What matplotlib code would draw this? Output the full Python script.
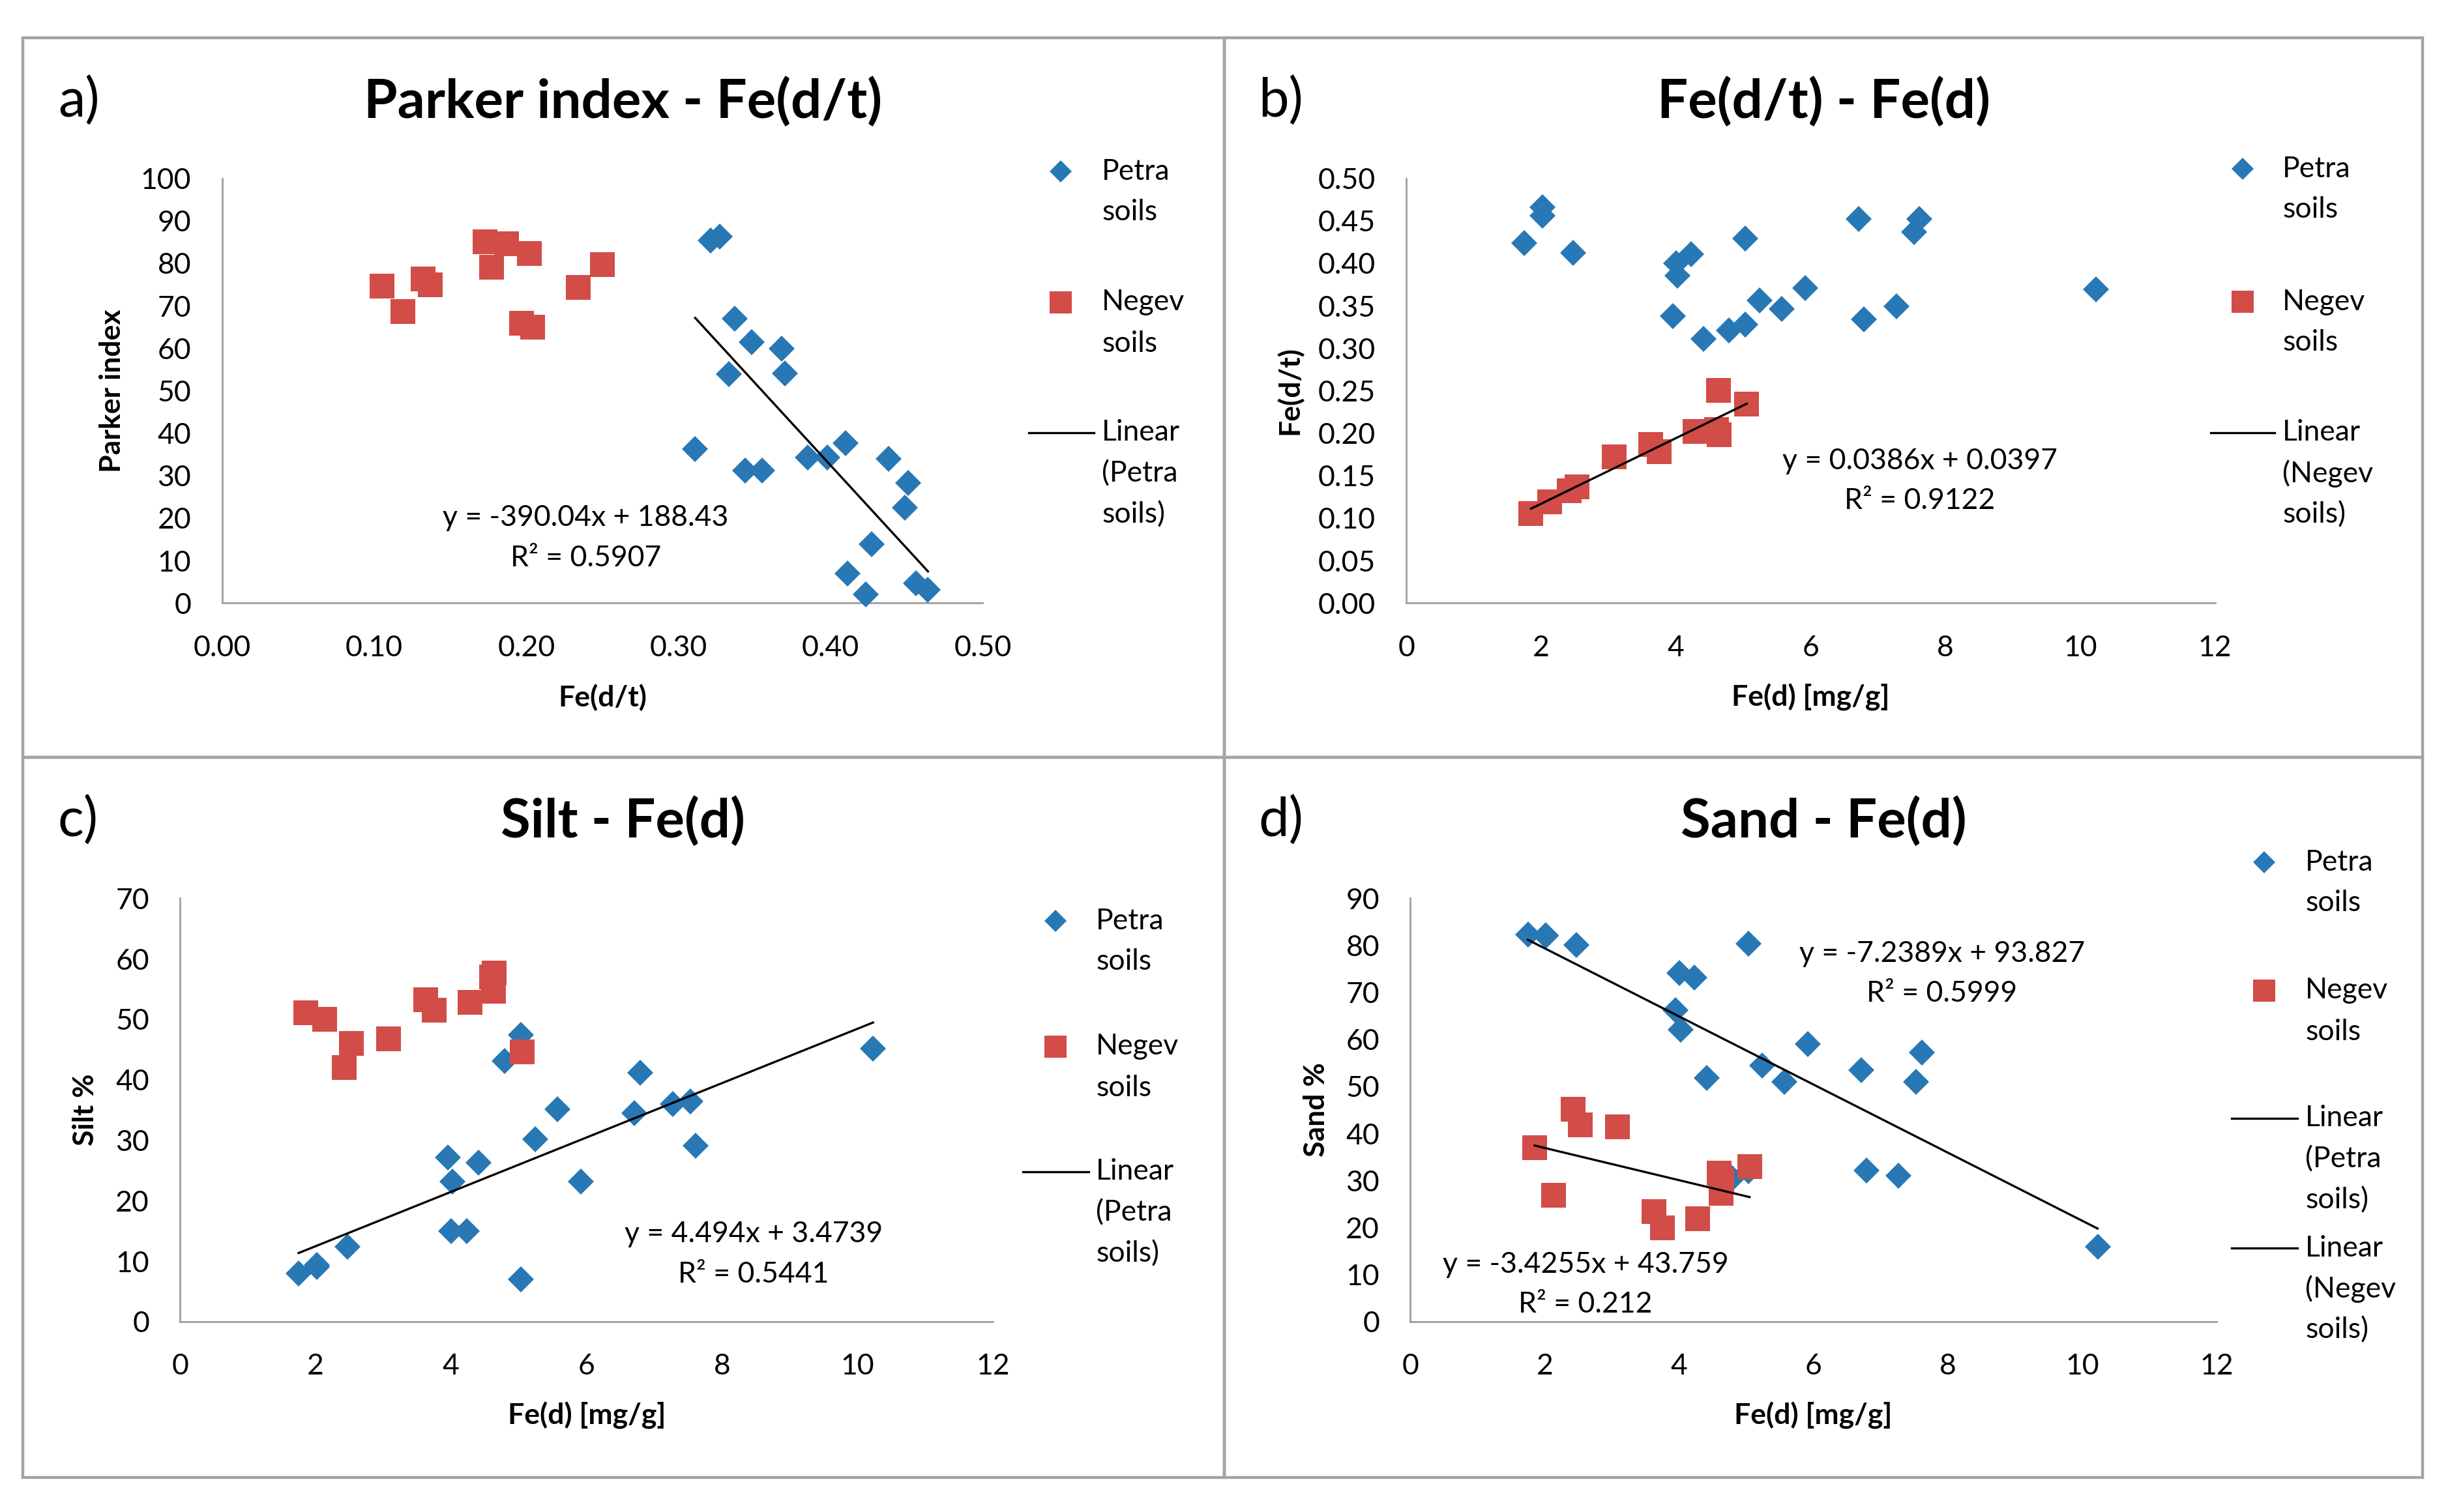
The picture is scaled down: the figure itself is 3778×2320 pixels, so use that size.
import numpy as np
import matplotlib
matplotlib.use('Agg')
import matplotlib.pyplot as plt
from matplotlib.lines import Line2D
from matplotlib.patches import Rectangle
from matplotlib.ticker import FormatStrFormatter, MultipleLocator

plt.rcParams['font.family'] = ['Lato', 'DejaVu Sans']

# ---- data ----
# Petra soils (21 samples)
petra_fed = [1.75, 2.02, 2.02, 2.47, 3.95, 4.00, 4.02, 4.23, 4.41, 4.79, 5.03,
             5.03, 5.24, 5.57, 5.92, 6.71, 6.79, 7.27, 7.53, 7.61, 10.23]
petra_fedt = [0.424, 0.466, 0.456, 0.412, 0.338, 0.400, 0.385, 0.411, 0.311, 0.321, 0.429,
              0.328, 0.356, 0.346, 0.371, 0.452, 0.334, 0.349, 0.437, 0.452, 0.369]
petra_silt = [8.0, 9.0, 9.3, 12.4, 27.1, 15.0, 23.2, 15.0, 26.3, 43.1, 47.4,
              7.0, 30.1, 35.1, 23.1, 34.5, 41.1, 36.0, 36.4, 29.1, 45.1]
petra_sand = [82.3, 82.1, 82.0, 80.0, 66.2, 74.1, 62.0, 73.1, 51.8, 30.5, 80.3,
              32.0, 54.4, 50.9, 59.0, 53.5, 32.1, 31.0, 50.9, 57.2, 15.9]
petra_fedt_a = [0.321, 0.327, 0.337, 0.348, 0.368, 0.333, 0.370, 0.311, 0.344, 0.355, 0.385,
                0.398, 0.410, 0.438, 0.451, 0.449, 0.427, 0.411, 0.423, 0.456, 0.464]
petra_parker = [85.4, 86.3, 66.9, 61.4, 59.9, 53.9, 54.1, 36.3, 31.2, 31.2, 34.3,
                34.3, 37.7, 33.9, 28.2, 22.5, 13.9, 6.9, 2.1, 4.6, 3.1]

# Negev soils (12 samples)
negev_fed = [1.85, 2.13, 2.42, 2.53, 3.08, 3.63, 3.75, 4.28, 4.60, 4.64, 4.63, 5.05]
negev_fedt = [0.105, 0.119, 0.132, 0.137, 0.172, 0.187, 0.178, 0.202, 0.204, 0.198, 0.250, 0.234]
negev_silt = [51.1, 50.0, 42.0, 46.0, 46.7, 53.2, 51.5, 52.8, 57.0, 57.6, 54.6, 44.6]
negev_sand = [37.0, 26.9, 45.1, 41.8, 41.4, 23.4, 19.9, 21.8, 31.5, 30.1, 27.3, 33.0]
negev_fedt_a = [0.105, 0.119, 0.132, 0.137, 0.173, 0.177, 0.187, 0.202, 0.197, 0.204, 0.234, 0.250]
negev_parker = [74.6, 68.6, 76.3, 74.9, 85.0, 79.1, 84.6, 82.3, 65.8, 64.9, 74.3, 79.7]

# trend lines (slope, intercept, R2) as printed
fit_a_petra = (-390.04, 188.43, '0.5907')
fit_b_negev = (0.0386, 0.0397, '0.9122')
fit_c_petra = (4.494, 3.4739, '0.5441')
fit_d_petra = (-7.2389, 93.827, '0.5999')
fit_d_negev = (-3.4255, 43.759, '0.212')

BLUE = '#2878B5'
RED = '#D24C48'
GRAY = '#9E9E9E'
W, H = 3778, 2320
FS = 32
TITLE_FS = 60


def fx(px):
    return px / W


def fy(py):
    return 1 - py / H


fig = plt.figure(figsize=(W / 100, H / 100), dpi=100)
fig.patch.set_facecolor('white')

# panel frames
for x0, y0, x1, y1 in [(35, 58, 1878, 1162), (1878, 58, 3716, 1162),
                       (35, 1162, 1878, 2267), (1878, 1162, 3716, 2267)]:
    fig.add_artist(Rectangle((fx(x0), fy(y1)), fx(x1) - fx(x0), fy(y0) - fy(y1),
                             transform=fig.transFigure, fill=False,
                             edgecolor='#A3A3A3', linewidth=3.2))


def setup(ax, xlim, xstep, xfmt, ylim, ystep, yfmt, xlabel, ylabel, ylab_x):
    ax.set_xlim(*xlim)
    ax.set_ylim(*ylim)
    ax.xaxis.set_major_locator(MultipleLocator(xstep))
    ax.yaxis.set_major_locator(MultipleLocator(ystep))
    ax.xaxis.set_major_formatter(FormatStrFormatter(xfmt))
    ax.yaxis.set_major_formatter(FormatStrFormatter(yfmt))
    for s in ['top', 'right']:
        ax.spines[s].set_visible(False)
    for s in ['left', 'bottom']:
        ax.spines[s].set_color(GRAY)
        ax.spines[s].set_linewidth(2)
    ax.tick_params(axis='x', length=0, pad=35, labelsize=FS)
    ax.tick_params(axis='y', length=0, pad=34, labelsize=FS)
    ax.set_xlabel(xlabel, fontsize=FS, fontweight='bold')
    ax.set_ylabel(ylabel, fontsize=FS, fontweight='bold')
    ax.xaxis.set_label_coords(0.5, -0.222)
    ax.yaxis.set_label_coords(ylab_x, 0.5)
    ax.xaxis.label.set_va('center')
    ax.yaxis.label.set_va('center')
    ax.set_facecolor('none')


def scatter(ax, x, y, kind):
    if kind == 'petra':
        ax.plot(x, y, 'D', color=BLUE, markersize=20, markeredgewidth=0,
                linestyle='none', clip_on=False, zorder=3)
    else:
        ax.plot(x, y, 's', color=RED, markersize=28, markeredgewidth=0,
                linestyle='none', clip_on=False, zorder=4)


def trend(ax, xdata, fit):
    xs = np.array([min(xdata), max(xdata)])
    ax.plot(xs, fit[0] * xs + fit[1], color='black', linewidth=2.4, zorder=5)


def equation(ax, fit, x, y_eq, y_r2):
    sign = '-' if fit[1] < 0 else '+'
    ax.text(x, y_eq, 'y = %sx %s %s' % (fit[0], sign, abs(fit[1])),
            fontsize=FS, ha='center', va='center', zorder=6)
    ax.text(x, y_r2, 'R² = %s' % fit[2], fontsize=FS, ha='center', va='center', zorder=6)


def legend(hx, tx, entries):
    for kind, py, lines, x1x2 in entries:
        if kind == 'petra':
            fig.add_artist(Line2D([fx(hx)], [fy(py)], marker='D', color=BLUE,
                                  markersize=17, markeredgewidth=0, transform=fig.transFigure))
        elif kind == 'negev':
            fig.add_artist(Line2D([fx(hx)], [fy(py)], marker='s', color=RED,
                                  markersize=24, markeredgewidth=0, transform=fig.transFigure))
        else:
            fig.add_artist(Line2D([fx(x1x2[0]), fx(x1x2[1])], [fy(py), fy(py)],
                                  color='black', linewidth=2.4, transform=fig.transFigure))
        for i, t in enumerate(lines):
            fig.text(fx(tx), fy(py + i * 63), t, fontsize=FS, ha='left', va='center')


def panel_title(label, lx, title, cx, py):
    fig.text(fx(lx), fy(py), label, fontsize=TITLE_FS, ha='left', va='center')
    fig.text(fx(cx), fy(py), title, fontsize=TITLE_FS, fontweight='bold', ha='center', va='center')


# ---- a) Parker index - Fe(d/t) ----
ax_a = fig.add_axes([fx(340.5), fy(925.3), fx(1507.4) - fx(340.5), fy(273.5) - fy(925.3)])
setup(ax_a, (0, 0.5), 0.1, '%.2f', (0, 100), 10, '%d', 'Fe(d/t)', 'Parker index', -0.144)
scatter(ax_a, petra_fedt_a, petra_parker, 'petra')
scatter(ax_a, negev_fedt_a, negev_parker, 'negev')
trend(ax_a, petra_fedt_a, fit_a_petra)
equation(ax_a, fit_a_petra, 0.239, 20.0, 10.5)
panel_title('a)', 89, 'Parker index - Fe(d/t)', 956, 156)
legend(1627, 1690, [('petra', 263, ['Petra', 'soils'], None),
                    ('negev', 464, ['Negev', 'soils'], None),
                    ('line', 664, ['Linear', '(Petra', 'soils)'], (1578, 1678))])

# ---- b) Fe(d/t) - Fe(d) ----
ax_b = fig.add_axes([fx(2157.3), fy(925.3), fx(3397.5) - fx(2157.3), fy(273.5) - fy(925.3)])
setup(ax_b, (0, 12), 2, '%d', (0, 0.5), 0.05, '%.2f', 'Fe(d) [mg/g]', 'Fe(d/t)', -0.145)
scatter(ax_b, petra_fed, petra_fedt, 'petra')
scatter(ax_b, negev_fed, negev_fedt, 'negev')
trend(ax_b, negev_fed, fit_b_negev)
equation(ax_b, fit_b_negev, 7.62, 0.1674, 0.1204)
panel_title('b)', 1930, 'Fe(d/t) - Fe(d)', 2797, 156)
legend(3440, 3501, [('petra', 259, ['Petra', 'soils'], None),
                    ('negev', 463, ['Negev', 'soils'], None),
                    ('line', 664, ['Linear', '(Negev', 'soils)'], (3391, 3489))])

# ---- c) Silt - Fe(d) ----
ax_c = fig.add_axes([fx(276.3), fy(2027.8), fx(1523.1) - fx(276.3), fy(1378.2) - fy(2027.8)])
setup(ax_c, (0, 12), 2, '%d', (0, 70), 10, '%d', 'Fe(d) [mg/g]', 'Silt %', -0.1165)
scatter(ax_c, petra_fed, petra_silt, 'petra')
scatter(ax_c, negev_fed, negev_silt, 'negev')
trend(ax_c, petra_fed, fit_c_petra)
equation(ax_c, fit_c_petra, 8.467, 14.43, 7.81)
panel_title('c)', 89, 'Silt - Fe(d)', 956, 1260)
legend(1619, 1681, [('petra', 1413, ['Petra', 'soils'], None),
                    ('negev', 1606, ['Negev', 'soils'], None),
                    ('line', 1798, ['Linear', '(Petra', 'soils)'], (1569, 1670))])

# ---- d) Sand - Fe(d) ----
ax_d = fig.add_axes([fx(2163.3), fy(2027.8), fx(3399.9) - fx(2163.3), fy(1378.2) - fy(2027.8)])
setup(ax_d, (0, 12), 2, '%d', (0, 90), 10, '%d', 'Fe(d) [mg/g]', 'Sand %', -0.1167)
scatter(ax_d, petra_fed, petra_sand, 'petra')
scatter(ax_d, negev_fed, negev_sand, 'negev')
trend(ax_d, petra_fed, fit_d_petra)
trend(ax_d, negev_fed, fit_d_negev)
equation(ax_d, fit_d_petra, 7.916, 78.2, 69.7)
equation(ax_d, fit_d_negev, 2.606, 12.1, 3.7)
panel_title('d)', 1930, 'Sand - Fe(d)', 2797, 1260)
legend(3473, 3536, [('petra', 1323, ['Petra', 'soils'], None),
                    ('negev', 1520, ['Negev', 'soils'], None),
                    ('line', 1716, ['Linear', '(Petra', 'soils)'], (3423, 3524)),
                    ('line', 1915, ['Linear', '(Negev', 'soils)'], (3423, 3524))])

fig.savefig('out.png', dpi=100, facecolor='white')
